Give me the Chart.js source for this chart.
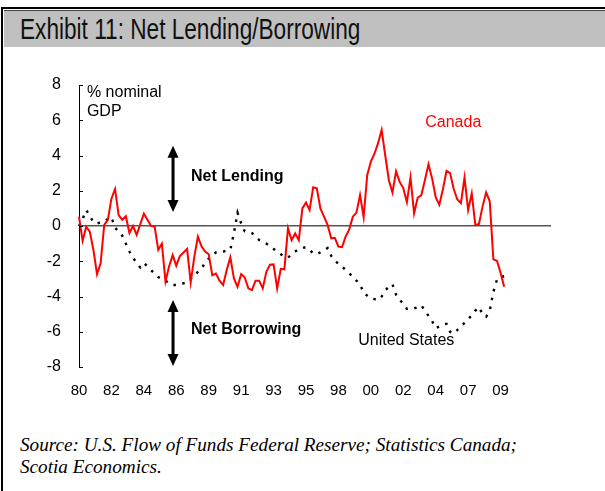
<!DOCTYPE html>
<html>
<head>
<meta charset="utf-8">
<script src="https://cdn.jsdelivr.net/npm/chart.js@4.4.1/dist/chart.umd.min.js"></script>
<style>
  html, body { margin: 0; padding: 0; background: #fff; }
  body { width: 605px; height: 491px; position: relative; overflow: hidden; }
  #frame { position: absolute; left: 1px; top: 7px; width: 640px; height: 520px;
           border-left: 2px solid #000; border-top: 2px solid #000; }
  #title { position: absolute; left: 4px; top: 10px; width: 620px; height: 37px;
           background: #c0c0c0; border-top: 1px solid #444; box-sizing: border-box;
           padding-left: 16px; color: #111; white-space: nowrap;
           font-family: 'Liberation Sans Narrow', 'Liberation Sans', Arial, sans-serif;
           font-size: 29px; line-height: 36px; }
  #title span { display: inline-block; transform: scaleX(0.78); transform-origin: left center; }
  #wrap { position: absolute; left: 0; top: 50px; width: 605px; height: 360px; }
  #source { position: absolute; left: 20px; top: 434px; color: #000;
            font: italic 19.2px/22px 'Liberation Serif', 'Times New Roman', serif; }
</style>
</head>
<body>
<div id="frame"></div>
<div id="title"><span>Exhibit 11: Net Lending/Borrowing</span></div>
<div id="wrap"><canvas id="lendingChart" width="605" height="360"></canvas></div>
<div id="source">Source: U.S. Flow of Funds Federal Reserve; Statistics Canada;<br>Scotia Economics.</div>

<script>
// quarterly categories, 1980Q1 .. 2012Q4 (data stops in 2009)
const quarters = [];
for (let yr = 1980; yr <= 2012; yr++) {
  for (let q = 1; q <= 4; q++) quarters.push(yr + 'Q' + q);
}

// a year label every 9 quarters
const labelEvery = 9;
const tickLabels = ['80', '82', '84', '86', '89', '91', '93', '95', '98', '00', '02', '04', '07', '09'];

// net lending (+) / borrowing (-), % of nominal GDP
const canada = [
  0.53, -0.83, -0.04, -0.32, -1.36, -2.73, -2.12, 0.06, 0.35, 1.55,
  2.1, 0.62, 0.35, 0.55, -0.4, 0.0, -0.5, 0.1, 0.7, 0.35,
  0.0, -0.05, -1.35, -1.0, -3.15, -2.3, -1.65, -2.25, -1.7, -1.5,
  -1.3, -3.2, -1.75, -0.6, -1.15, -1.45, -1.6, -2.8, -2.7, -3.1,
  -3.35, -2.5, -1.78, -2.97, -3.45, -2.73, -2.92, -3.54, -3.64, -3.1,
  -3.1, -3.54, -2.6, -2.2, -2.18, -3.54, -2.43, -2.46, -0.13, -0.8,
  -0.42, -0.8, 1.0, 1.33, 0.91, 2.2, 2.14, 1.0, 0.53, 0.06,
  -0.7, -0.67, -1.17, -1.2, -0.6, -0.19, 0.53, 0.76, 1.76, 0.5,
  2.9, 3.65, 4.1, 4.7, 5.45, 4.0, 2.6, 1.9, 3.1, 2.5,
  2.15, 1.35, 2.75, 0.72, 1.6, 1.75, 2.6, 3.5, 2.7, 1.63,
  1.2, 2.08, 3.13, 3.0, 2.1, 1.5, 1.3, 2.75, 0.9, 1.85,
  0.06, 0.11, 1.1, 1.9, 1.4, -1.89, -1.97, -2.65, -3.45
];

const unitedStates = [
  0.0, 0.4, 0.9, 0.6, 0.2, 0.15, 0.2, 0.25, 0.4, 0.5,
  -0.1, -0.3, -0.55, -1.0, -1.45, -1.8, -2.1, -2.35, -2.1, -2.3,
  -2.5, -2.7, -2.9, -3.0, -3.1, -3.25, -3.35, -3.35, -3.3, -3.25,
  -3.2, -3.0, -2.8, -2.6, -2.4, -2.1, -1.85, -1.7, -1.5, -1.45,
  -1.45, -1.4, -1.35, -0.4, 0.75, 0.15, -0.3, -0.35, -0.4, -0.6,
  -0.8, -0.9, -1.0, -1.15, -1.3, -1.45, -1.6, -1.75, -1.8, -1.6,
  -1.45, -1.3, -1.25, -1.2, -1.35, -1.55, -1.6, -1.5, -1.4, -1.25,
  -1.7, -1.95, -2.15, -2.3, -2.5, -2.7, -2.85, -3.1, -3.3, -3.8,
  -3.95, -4.1, -4.15, -4.2, -4.0, -3.65, -3.45, -3.3, -3.9, -4.2,
  -4.4, -4.7, -4.7, -4.68, -4.6, -4.5, -4.8, -5.1, -5.4, -5.8,
  -5.7, -5.6, -5.55, -6.0, -6.1, -5.9, -5.7, -5.5, -5.3, -5.05,
  -4.8, -4.6, -5.0, -5.15, -4.8, -3.75, -3.05, -2.9, -2.85
];

// text notes and arrows, placed in axis units (quarter index, %)
const notes = [
  { text: '% nominal', x: 2.2, y: 7.56, color: '#000', bold: false },
  { text: 'GDP', x: 2.2, y: 6.5, color: '#000', bold: false },
  { text: 'Net Lending', x: 31.1, y: 2.8, color: '#000', bold: true },
  { text: 'Net Borrowing', x: 31.1, y: -5.9, color: '#000', bold: true },
  { text: 'Canada', x: 96.1, y: 5.85, color: '#ff0000', bold: false },
  { text: 'United States', x: 77.5, y: -6.5, color: '#000', bold: false }
];
const arrows = [
  { x: 26.1, from: 4.55, to: 0.8 },
  { x: 26.1, from: -4.2, to: -7.95 }
];

const FONT = "'Liberation Sans', Arial, sans-serif";
Chart.defaults.font.family = FONT;
Chart.defaults.color = '#000';

const notesPlugin = {
  id: 'notes',
  beforeDatasetsDraw(chart) {
    const { ctx, scales: { x, y } } = chart;
    ctx.save();
    ctx.textBaseline = 'middle';
    ctx.textAlign = 'left';
    notes.forEach(n => {
      ctx.font = (n.bold ? 'bold ' : '') + '16px ' + FONT;
      ctx.fillStyle = n.color;
      ctx.fillText(n.text, x.getPixelForValue(n.x), y.getPixelForValue(n.y));
    });
    // double-headed arrows
    ctx.fillStyle = '#000';
    ctx.strokeStyle = '#000';
    ctx.lineWidth = 3;
    arrows.forEach(a => {
      const px = x.getPixelForValue(a.x);
      const top = y.getPixelForValue(a.from);
      const bot = y.getPixelForValue(a.to);
      const hw = 5.5, hh = 12;
      ctx.beginPath();
      ctx.moveTo(px, top + hh - 1);
      ctx.lineTo(px, bot - hh + 1);
      ctx.stroke();
      ctx.beginPath();
      ctx.moveTo(px, top);
      ctx.lineTo(px - hw, top + hh);
      ctx.lineTo(px + hw, top + hh);
      ctx.closePath();
      ctx.fill();
      ctx.beginPath();
      ctx.moveTo(px, bot);
      ctx.lineTo(px - hw, bot - hh);
      ctx.lineTo(px + hw, bot - hh);
      ctx.closePath();
      ctx.fill();
    });
    ctx.restore();
  },
  afterDraw(chart) {
    // short tick marks on the inside of the value axis
    const { ctx, chartArea, scales: { y } } = chart;
    ctx.save();
    ctx.strokeStyle = '#000';
    ctx.lineWidth = 1;
    y.ticks.forEach(t => {
      const py = Math.round(y.getPixelForValue(t.value)) + 0.5;
      ctx.beginPath();
      ctx.moveTo(chartArea.left, py);
      ctx.lineTo(chartArea.left + 4, py);
      ctx.stroke();
    });
    ctx.restore();
  }
};

new Chart(document.getElementById('lendingChart').getContext('2d'), {
  type: 'line',
  data: {
    labels: quarters,
    datasets: [
      {
        label: 'Canada',
        data: canada,
        borderColor: '#ff0000',
        borderWidth: 2,
        pointRadius: 0,
        tension: 0,
        fill: false
      },
      {
        label: 'United States',
        data: unitedStates,
        borderColor: '#000',
        borderWidth: 2.4,
        borderDash: [2.5, 6.5],
        pointRadius: 0,
        tension: 0,
        fill: false
      }
    ]
  },
  options: {
    responsive: false,
    animation: false,
    events: [],
    layout: { padding: { top: 35, right: 54, bottom: 0, left: 0 } },
    plugins: { legend: { display: false }, tooltip: { enabled: false } },
    scales: {
      x: {
        offset: false,
        grid: { display: false, drawTicks: false },
        border: { display: false },
        ticks: {
          autoSkip: false,
          maxRotation: 0,
          padding: 15,
          font: { size: 15 },
          callback: (v, i) => (i % labelEvery === 0 ? (tickLabels[i / labelEvery] ?? '') : '')
        },
        afterFit: s => { s.height = 43; }
      },
      y: {
        min: -8,
        max: 8,
        ticks: { stepSize: 2, padding: 18, font: { size: 16 } },
        grid: {
          drawTicks: false,
          color: c => (c.tick && c.tick.value === 0 ? '#555' : 'rgba(0,0,0,0)'),
          lineWidth: 1.5
        },
        border: { display: true, color: '#000', width: 1 },
        afterFit: s => { s.width = 79; }
      }
    }
  },
  plugins: [notesPlugin]
});
</script>
</body>
</html>
